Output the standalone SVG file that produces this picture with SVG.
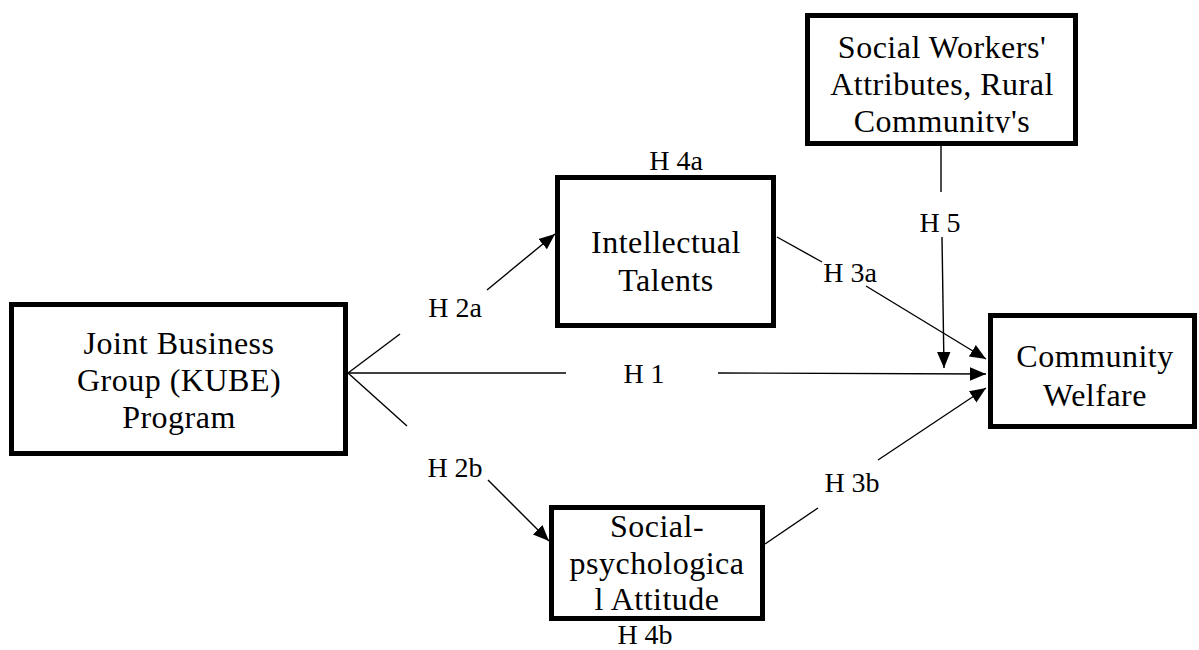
<svg xmlns="http://www.w3.org/2000/svg" width="1199" height="650" viewBox="0 0 1199 650">
  <style>
    .box { fill: #ffffff; stroke: #000000; stroke-width: 5; }
    .nt { font-family: "Liberation Serif", "Times New Roman", serif; font-size: 32px; letter-spacing: 0.5px; fill: #000; text-anchor: middle; }
    .lb { font-family: "Liberation Serif", "Times New Roman", serif; font-size: 28px; fill: #000; text-anchor: middle; }
    .cn { stroke: #000; stroke-width: 1.4; fill: none; }
  </style>
  <defs>
    <marker id="ahb" viewBox="0 0 10 10" refX="10" refY="5" markerWidth="16" markerHeight="16" markerUnits="userSpaceOnUse" orient="auto">
      <path d="M0,0.8 L10,5 L0,9.2 z" fill="#000"/>
    </marker>
    <clipPath id="swclip"><rect x="808" y="16" width="267" height="117"/></clipPath>
  </defs>

  <g id="connectors">
    <!-- H1 -->
    <line class="cn" x1="348" y1="373" x2="566" y2="373"/>
    <line class="cn" x1="718" y1="373" x2="986" y2="374" marker-end="url(#ahb)"/>
    <!-- H2a -->
    <line class="cn" x1="348" y1="373" x2="400" y2="334"/>
    <line class="cn" x1="487" y1="290" x2="555" y2="234" marker-end="url(#ahb)"/>
    <!-- H2b -->
    <line class="cn" x1="348" y1="373" x2="407" y2="426"/>
    <line class="cn" x1="488" y1="480" x2="549" y2="541" marker-end="url(#ahb)"/>
    <!-- H3a -->
    <line class="cn" x1="777" y1="237" x2="822" y2="262"/>
    <line class="cn" x1="866" y1="286" x2="986" y2="359" marker-end="url(#ahb)"/>
    <!-- H3b -->
    <line class="cn" x1="765" y1="544" x2="818" y2="508"/>
    <line class="cn" x1="878" y1="460" x2="986" y2="388" marker-end="url(#ahb)"/>
    <!-- H5 -->
    <line class="cn" x1="941" y1="146" x2="941" y2="192"/>
    <line class="cn" x1="942" y1="237" x2="944" y2="368" marker-end="url(#ahb)"/>
  </g>

  <g id="labels">
    <text class="lb" x="644" y="383">H 1</text>
    <text class="lb" x="455" y="317">H 2a</text>
    <text class="lb" x="455" y="477">H 2b</text>
    <text class="lb" x="850" y="282">H 3a</text>
    <text class="lb" x="852" y="492">H 3b</text>
    <text class="lb" x="676" y="170">H 4a</text>
    <text class="lb" x="645" y="644">H 4b</text>
    <text class="lb" x="940" y="232">H 5</text>
  </g>

  <g id="node-social-workers">
    <rect class="box" x="807.5" y="15.5" width="268" height="128"/>
    <g clip-path="url(#swclip)">
      <text class="nt" x="942" y="58">Social Workers'</text>
      <text class="nt" x="942" y="95">Attributes, Rural</text>
      <text class="nt" x="942" y="132">Community's</text>
    </g>
  </g>

  <g id="node-intellectual">
    <rect class="box" x="557.5" y="177.5" width="216" height="148"/>
    <text class="nt" x="666" y="253">Intellectual</text>
    <text class="nt" x="666" y="291">Talents</text>
  </g>

  <g id="node-kube">
    <rect class="box" x="11.5" y="304.5" width="334" height="149"/>
    <text class="nt" x="179" y="354">Joint Business</text>
    <text class="nt" x="179" y="391">Group (KUBE)</text>
    <text class="nt" x="179" y="428">Program</text>
  </g>

  <g id="node-community">
    <rect class="box" x="990.5" y="315.5" width="204" height="111"/>
    <text class="nt" x="1095" y="367">Community</text>
    <text class="nt" x="1095" y="406">Welfare</text>
  </g>

  <g id="node-social-psych">
    <rect class="box" x="551.5" y="507.5" width="211" height="111"/>
    <text class="nt" x="657" y="537">Social-</text>
    <text class="nt" x="657" y="574">psychologica</text>
    <text class="nt" x="657" y="610">l Attitude</text>
  </g>
</svg>
